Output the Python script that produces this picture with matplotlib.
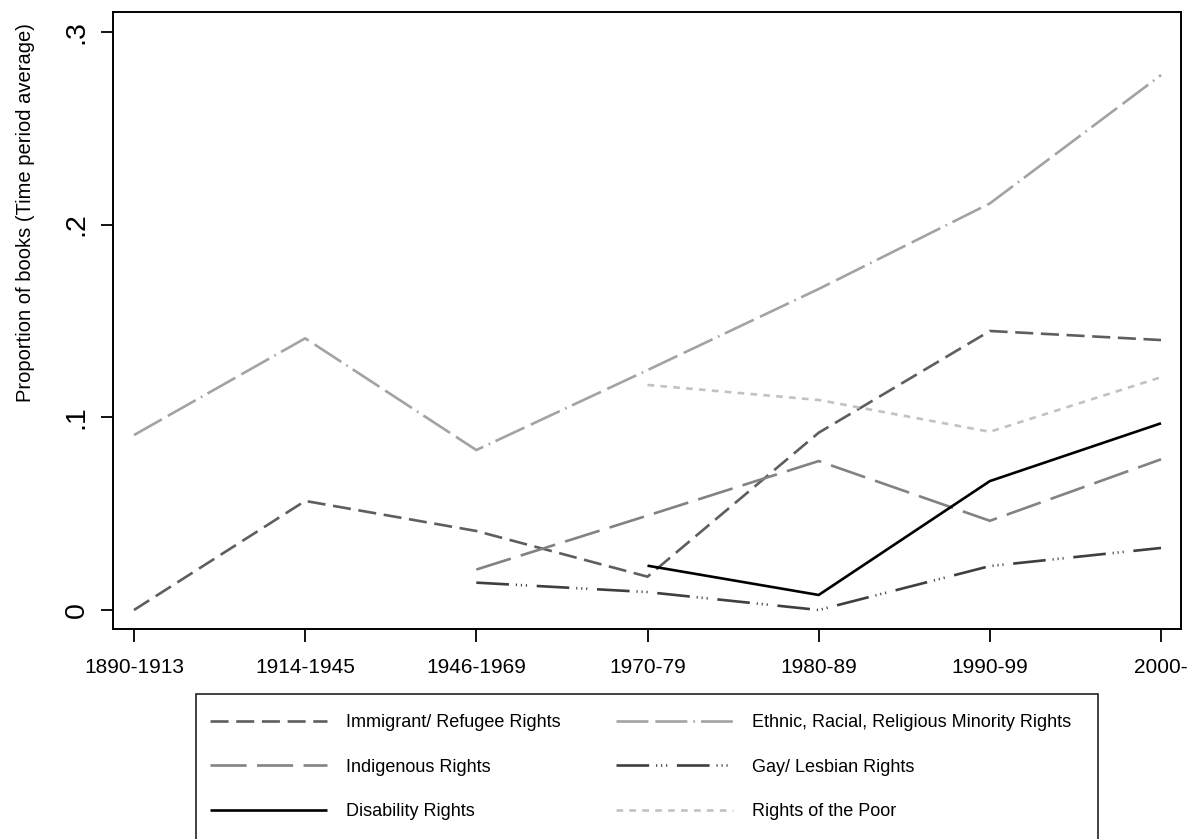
import numpy as np
import matplotlib
matplotlib.use('Agg')
import matplotlib.pyplot as plt
from matplotlib import font_manager
from matplotlib.patches import Rectangle

# ---------------- data ----------------
periods = ["1890-1913", "1914-1945", "1946-1969", "1970-79", "1980-89", "1990-99", "2000-"]
nan = np.nan
immigrant = [0.000, 0.0566, 0.041, 0.0173, 0.092, 0.1448, 0.1401]
ethnic = [0.0908, 0.141, 0.083, 0.1245, 0.1666, 0.211, 0.2776]
indigenous = [nan, nan, 0.021, 0.049, 0.0773, 0.0463, 0.0782]
gay = [nan, nan, 0.0142, 0.0093, 0.0, 0.0228, 0.0322]
disability = [nan, nan, nan, 0.023, 0.0078, 0.0669, 0.0969]
poor = [nan, nan, nan, 0.1168, 0.109, 0.0925, 0.1208]

series_labels = ["Immigrant/ Refugee Rights", "Indigenous Rights", "Disability Rights",
                 "Ethnic, Racial, Religious Minority Rights", "Gay/ Lesbian Rights",
                 "Rights of the Poor"]
yticks = [0, 0.1, 0.2, 0.3]
yticklabels = ["0", ".1", ".2", ".3"]
ylabel = "Proportion of books (Time period average)"

# ---------------- fonts ----------------
avail = {f.name for f in font_manager.fontManager.ttflist}
fam = [f for f in ["Liberation Sans", "Arial", "DejaVu Sans"] if f in avail]
plt.rcParams['font.family'] = fam
plt.rcParams['lines.scale_dashes'] = False

W, H = 1193, 839
fig = plt.figure(figsize=(W / 100, H / 100), dpi=100)
L, R, T, B = 113, 1180.7, 11.7, 629
ax = fig.add_axes([L / W, 1 - B / H, (R - L) / W, (B - T) / H])

x = np.arange(len(periods))
lw = 1.9
series = [
    (immigrant, dict(color='#5e5e5e', dashes=(13, 5.5))),
    (indigenous, dict(color='#828282', dashes=(26, 7.5))),
    (disability, dict(color='#000000')),
    (ethnic, dict(color='#a3a3a3', dashes=(23, 5, 23, 4.3, 1.2, 4.3))),
    (gay, dict(color='#3f3f3f', dashes=(23.5, 5, 0.8, 2.8, 0.8, 2.8, 0.8, 7))),
    (poor, dict(color='#c2c2c2', dashes=(4.8, 4.5))),
]
handles = []
for (vals, st), lab in zip(series, series_labels):
    kw = dict(st)
    dashes = kw.pop('dashes', None)
    ln, = ax.plot(x, vals, lw=lw, label=lab, solid_capstyle='butt',
                  dash_capstyle='butt', **kw)
    if dashes is not None:
        ln.set_dashes(dashes)
    handles.append(ln)

ax.set_xlim(-0.1227, 6.115)
ax.set_ylim(-0.00986, 0.3105)
ax.set_xticks(x)
ax.set_xticklabels(periods, fontsize=15)
ax.set_yticks(yticks)
ax.set_yticklabels(yticklabels, fontsize=20.5, rotation=90, va='center')
ax.tick_params(axis='both', direction='out', length=9, width=1.3, color='black')
ax.tick_params(axis='x', pad=12)
ax.tick_params(axis='y', pad=8)
for s in ax.spines.values():
    s.set_linewidth(1.4)
    s.set_color('black')

ax.set_ylabel(ylabel, fontsize=14.5, ha='center', va='center')
ax.yaxis.set_label_coords((26 - L) / (R - L), (B - 213) / (B - T))

# ---------------- legend ----------------
fs = 13
fs_px = fs * 100 / 72
handle_len = (117 * 0.72) / fs
colsp = 3.0
labsp = 1.2
anchor_y = 1 - 712 / H
anchor_x = 210 / W


def make_legend(colsp, labsp, anchor_y):
    return fig.legend(handles, series_labels, ncol=2, loc='upper left',
                      bbox_to_anchor=(anchor_x, anchor_y), bbox_transform=fig.transFigure,
                      frameon=False, fontsize=fs, handlelength=handle_len,
                      handletextpad=(18.7 * 0.72) / fs, borderpad=0, borderaxespad=0,
                      columnspacing=colsp, labelspacing=labsp)


leg = make_legend(colsp, labsp, anchor_y)
for _ in range(3):
    fig.canvas.draw()
    r = fig.canvas.get_renderer()
    ts = leg.get_texts()
    e = [t.get_window_extent(r) for t in ts]
    dx = 751.7 - e[3].x0
    colsp += dx / fs_px
    cy = [(b.y0 + b.y1) / 2 for b in e[:3]]
    sp = (cy[0] - cy[2]) / 2
    labsp += (44.5 - sp) / fs_px
    dy = (H - 722.7) - cy[0]
    anchor_y += dy / H
    leg.remove()
    leg = make_legend(colsp, labsp, anchor_y)

frame = Rectangle((196 / W, -0.02), (1098 - 196) / W, (1 - 694 / H) + 0.02,
                  transform=fig.transFigure, fill=False, edgecolor='#222222',
                  linewidth=1.2, zorder=0)
fig.patches.append(frame)

fig.savefig('out.png', dpi=100)
